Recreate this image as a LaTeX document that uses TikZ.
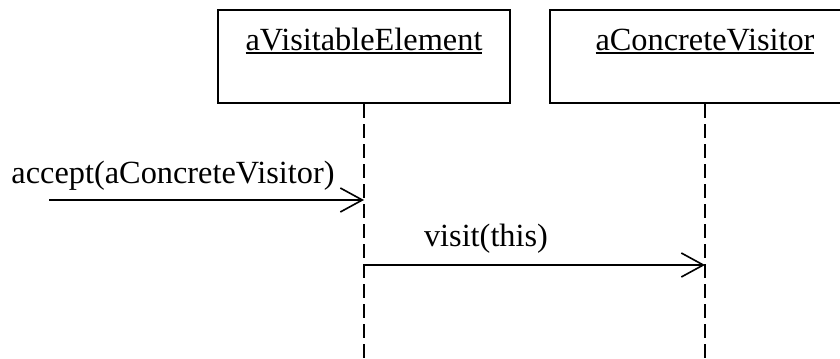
\documentclass[tikz,border=0pt]{standalone}
\usepackage{fontspec}
\setmainfont{Liberation Serif}
\usetikzlibrary{arrows.meta}
\usetikzlibrary{positioning}
\tikzset{>=latex}
\tikzstyle{objbox}=[draw=black,line width=0.5mm,inner sep=0,text height=1cm,text depth=1.325cm]
\tikzstyle{lifeline}=[draw=black,line width=0.5mm,dash pattern=on 3.5mm off 1.5mm]
\tikzstyle{msgline}=[draw=black,line width=0.4mm,-{Straight Barb[length=5.5mm,width=6mm]}]
\newcommand{\umlfont}{\fontsize{23}{27}\selectfont}
\newcommand{\objname}[1]{\setbox0\hbox{#1}\rlap{\rule[-3pt]{\wd0}{1.4pt}}\box0}

\begin{document}
\begin{tikzpicture}
  \useasboundingbox (0,0) rectangle (21,-8.975);
  \node[objbox,anchor=north west,minimum width=7.3cm] (elem) at (5.425,-0.225) {\umlfont\objname{aVisitableElement}};
  \node[objbox,right=0.95cm of elem,minimum width=7.75cm] (visitor) {\umlfont\objname{aConcreteVisitor}};

  \coordinate (bottom) at (0,-8.975);
  \draw[lifeline] (elem.south) -- (elem.south |- bottom);
  \draw[lifeline] (visitor.south) -- (visitor.south |- bottom);

  \coordinate (caller) at (1.225,-5);
  \coordinate (acceptin) at (elem.south |- caller);
  \draw[msgline] (caller) -- (acceptin);
  \node[anchor=base] (acceptlbl) at (4.325,-4.575) {\umlfont accept(aConcreteVisitor)};

  \coordinate (visitout) at (elem.south |- 0,-6.625);
  \coordinate (visitin) at (visitor.south |- visitout);
  \draw[msgline] (visitout) -- (visitin);
  \node[anchor=base] (visitlbl) at (12.15,-6.15) {\umlfont visit(this)};
\end{tikzpicture}
\end{document}
